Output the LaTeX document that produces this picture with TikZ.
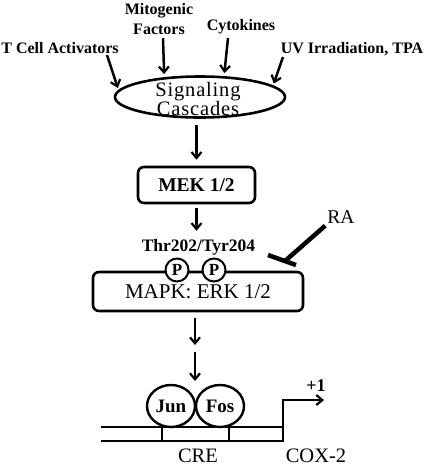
\documentclass[tikz,border=0pt]{standalone}
\usepackage{fontspec}
\setmainfont{Liberation Serif}
\newfontfamily\spacedfont[LetterSpace=4]{Liberation Serif}
\usetikzlibrary{arrows.meta,shapes.geometric}
\begin{document}
\begin{tikzpicture}[x=1pt,y=-1pt,line width=2.5pt,
  arr/.style={-{Straight Barb[length=6pt,width=10pt,line width=2.2pt]},line width=2.5pt},
  lbl/.style={font=\bfseries\fontsize{16}{20}\selectfont,inner sep=1pt,align=center},
  box/.style={draw,rounded corners=6pt,line width=2.6pt,inner sep=0pt},
  pcirc/.style={circle,draw,fill=white,minimum size=23pt,inner sep=0pt,line width=2pt,font=\bfseries\fontsize{17}{17}\selectfont},
  tf/.style={ellipse,draw,minimum width=48pt,minimum height=42pt,inner sep=0pt,line width=2.4pt,font=\bfseries\fontsize{19}{19}\selectfont},
  inh/.style={line width=4.5pt},
  plain/.style={font=\fontsize{20.5}{20.5}\selectfont,inner sep=0pt}
]
\useasboundingbox (0,0) rectangle (427,467);
% top labels
\node[lbl,anchor=base] (tca) at (60,53) {T Cell Activators};
\node[lbl] (mito) at (159,19) {Mitogenic\\Factors};
\node[lbl,anchor=base] (cyto) at (241,30) {Cytokines};
\node[lbl,anchor=base] (uv) at (352,53) {UV Irradiation, TPA};
\coordinate (s1) at (107,55);
\coordinate (s2) at (163,38);
\coordinate (s3) at (228,38);
\coordinate (s4) at (283,57);
% signaling cascades
\node[ellipse,draw,minimum width=170pt,minimum height=41pt,inner sep=0pt,line width=2.6pt] (sc) at (200,97) {};
\node[font=\spacedfont\fontsize{20.5}{19}\selectfont,align=center,inner sep=2pt] (sct) at (198,99) {Signaling\\Cascades};
\draw[arr,shorten >=2pt] (s1) -- (sc.175);
\draw[arr,shorten >=3pt] (s2) -- (sc.151);
\draw[arr,shorten >=3pt] (s3) -- (sc.41);
\draw[arr,shorten >=2pt] (s4) -- (sc.9);
% MEK
\node[box,minimum width=117pt,minimum height=36pt,font=\bfseries\fontsize{19.5}{19.5}\selectfont] (mek) at (196.5,185) {MEK 1/2};
\draw[arr,shorten <=6pt,shorten >=6pt] (sct.south -| mek.north) -- (mek.north);
% Thr label
\node[font=\bfseries\fontsize{17.5}{17.5}\selectfont,inner sep=1pt] (thr) at (198.5,247) {Thr202/Tyr204};
\draw[arr,shorten <=4pt,shorten >=6pt] (mek.south) -- (mek.south |- thr.north);
% MAPK
\node[box,minimum width=210pt,minimum height=39pt,font=\fontsize{21}{21}\selectfont] (mapk) at (198,291.5) {MAPK: ERK 1/2};
\node[pcirc] (pa) at (177,270) {P};
\node[pcirc] (pb) at (214,270) {P};
% RA inhibition
\node[font=\fontsize{19.5}{19.5}\selectfont,inner sep=1pt] (ra) at (341,217) {RA};
\coordinate (ib) at (285,261);
\coordinate (ib1) at (268,255);
\coordinate (ib2) at (296,265);
\draw[inh] (ra.south west) -- (ib);
\draw[inh] (ib1) -- (ib2);
% arrows to Jun/Fos
\coordinate (m1) at (195,345);
\coordinate (m2) at (195,381);
\draw[arr] (mapk.south -| m1) ++(0,6) -- (m1);
\draw[arr,shorten <=7pt] (m1) -- (m2);
% Jun Fos
\node[tf] (jun) at (171,406) {Jun};
\node[tf] (fos) at (220,406) {Fos};
% DNA
\coordinate (dl1) at (101,427);
\coordinate (dr1) at (283,427);
\coordinate (dl2) at (101,441);
\coordinate (dr2) at (283,441);
\coordinate (tss) at (283,400);
\coordinate (tend) at (324,400);
\coordinate (ta) at (162,427);
\coordinate (tb) at (229,427);
\draw (dl1) -- (dr1);
\draw (ta) -- (ta |- dl2);
\draw (tb) -- (tb |- dl2);
\draw[arr] (dl2) -- (dr2) -- (tss) -- (tend);
\node[font=\bfseries\fontsize{18}{18}\selectfont,inner sep=1pt] (plus) at (316,386) {+1};
\node[plain,anchor=base] (cre) at (198,462) {CRE};
\node[plain,anchor=base] (cox) at (316,462) {COX-2};
\end{tikzpicture}
\end{document}
